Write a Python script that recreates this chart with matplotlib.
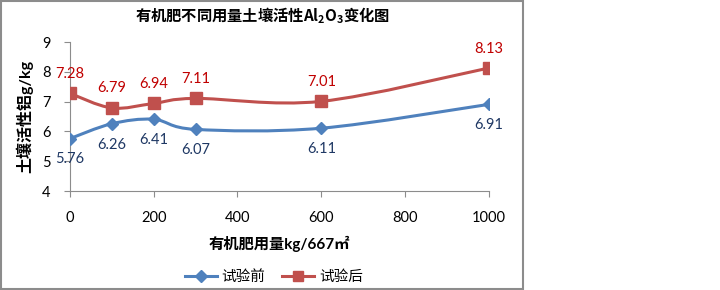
import numpy as np
import matplotlib
matplotlib.use('Agg')
from matplotlib import pyplot as plt
from matplotlib.path import Path
from matplotlib.patches import PathPatch, Rectangle
from matplotlib.lines import Line2D

plt.rcParams['font.family'] = ['Lato', 'Noto Sans CJK SC', 'DejaVu Sans']
plt.rcParams['mathtext.fontset'] = 'custom'
plt.rcParams['mathtext.rm'] = 'Noto Sans CJK SC'
plt.rcParams['mathtext.bf'] = 'Noto Sans CJK SC:bold'

# data
doses = [0, 100, 200, 300, 600, 1000]
before = [5.76, 6.26, 6.41, 6.07, 6.11, 6.91]
after = [7.28, 6.79, 6.94, 7.11, 7.01, 8.13]
series_names = ['试验前', '试验后']
x_ticks = [0, 200, 400, 600, 800, 1000]
y_ticks = [4, 5, 6, 7, 8, 9]

blue = '#4F81BD'
red = '#C0504D'
blue_lab = '#1F3864'
red_lab = '#C00000'

#smoothed line like excel (catmull-rom turned into bezier segments)
def smoothPath(xs, ys):
    pts = np.column_stack([xs, ys]).astype(float)
    n = len(pts)
    verts = [pts[0]]
    codes = [Path.MOVETO]
    for i in range(n - 1):
        p0 = pts[i - 1] if i > 0 else pts[i]
        p1 = pts[i]
        p2 = pts[i + 1]
        p3 = pts[i + 2] if i + 2 < n else pts[i + 1]
        c1 = p1 + (p2 - p0) / 6.0
        c2 = p2 - (p3 - p1) / 6.0
        verts += [c1, c2, p2]
        codes += [Path.CURVE4] * 3
    return Path(verts, codes)

fig = plt.figure(figsize=(7.2, 2.9), dpi=100)
ax = fig.add_axes([0.097, 0.341, 0.582, 0.514])

fig.patches.append(Rectangle((0.002, 0.005), 0.725, 0.99, transform=fig.transFigure,
                             fill=False, edgecolor='#8C8C8C', lw=1.5))

ax.add_patch(PathPatch(smoothPath(doses, before), fill=False, edgecolor=blue, lw=2.2, zorder=3))
ax.add_patch(PathPatch(smoothPath(doses, after), fill=False, edgecolor=red, lw=2.2, zorder=3))
ax.plot(doses, before, ls='none', marker='D', ms=6.5, color=blue, zorder=4)
ax.plot(doses, after, ls='none', marker='s', ms=8, color=red, zorder=4)

for x, y in zip(doses, before):
    ax.annotate(f'{y:.2f}', (x, y), xytext=(0, -15), textcoords='offset points',
                ha='center', va='center', fontsize=10.5, color=blue_lab)
for x, y in zip(doses, after):
    ax.annotate(f'{y:.2f}', (x, y), xytext=(0, 14), textcoords='offset points',
                ha='center', va='center', fontsize=10.5, color=red_lab)

ax.set_xlim(0, 1000)
ax.set_ylim(4, 9)
ax.set_xticks(x_ticks)
ax.set_yticks(y_ticks)
ax.tick_params(axis='both', labelsize=10.5, colors='#8C8C8C', length=4, width=0.8,
               direction='out', pad=10)
for lab in ax.get_xticklabels() + ax.get_yticklabels():
    lab.set_color('black')
for s in ['top', 'right']:
    ax.spines[s].set_visible(False)
for s in ['left', 'bottom']:
    ax.spines[s].set_color('#8C8C8C')

ax.set_xlabel('有机肥用量kg/667㎡', fontsize=11, fontweight='bold', labelpad=8)
ax.set_ylabel('土壤活性铝g/kg', fontsize=11.5, fontweight='bold', labelpad=6)
fig.text(0.364, 0.945, r'$\mathbf{有机肥不同用量土壤活性Al_2O_3变化图}$',
         ha='center', va='center', fontsize=11)

handles = [Line2D([], [], color=blue, lw=2.2, marker='D', ms=6),
           Line2D([], [], color=red, lw=2.2, marker='s', ms=7)]
fig.legend(handles, series_names, loc='center', bbox_to_anchor=(0.38, 0.045),
           ncol=2, frameon=False, fontsize=10.5, handlelength=2.2,
           handletextpad=0.3, columnspacing=1.2)

fig.savefig('out.png', dpi=100)
